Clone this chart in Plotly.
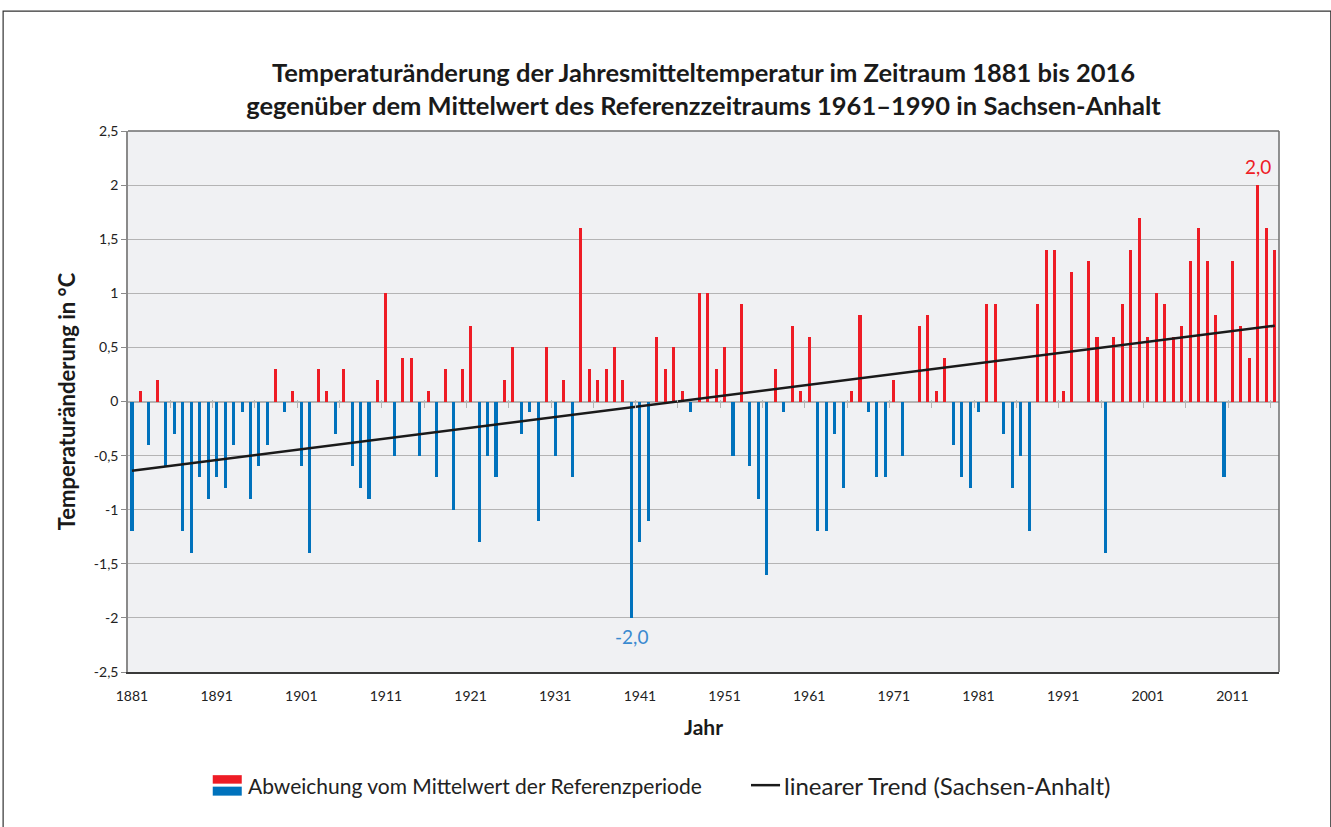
import plotly.graph_objects as go

years = list(range(1881, 2017))
anomaly = [
    # 1881-1890
    -1.2, 0.1, -0.4, 0.2, -0.6, -0.3, -1.2, -1.4, -0.7, -0.9,
    # 1891-1900
    -0.7, -0.8, -0.4, -0.1, -0.9, -0.6, -0.4, 0.3, -0.1, 0.1,
    # 1901-1910
    -0.6, -1.4, 0.3, 0.1, -0.3, 0.3, -0.6, -0.8, -0.9, 0.2,
    # 1911-1920
    1.0, -0.5, 0.4, 0.4, -0.5, 0.1, -0.7, 0.3, -1.0, 0.3,
    # 1921-1930
    0.7, -1.3, -0.5, -0.7, 0.2, 0.5, -0.3, -0.1, -1.1, 0.5,
    # 1931-1940
    -0.5, 0.2, -0.7, 1.6, 0.3, 0.2, 0.3, 0.5, 0.2, -2.0,
    # 1941-1950
    -1.3, -1.1, 0.6, 0.3, 0.5, 0.1, -0.1, 1.0, 1.0, 0.3,
    # 1951-1960
    0.5, -0.5, 0.9, -0.6, -0.9, -1.6, 0.3, -0.1, 0.7, 0.1,
    # 1961-1970
    0.6, -1.2, -1.2, -0.3, -0.8, 0.1, 0.8, -0.1, -0.7, -0.7,
    # 1971-1980
    0.2, -0.5, 0.0, 0.7, 0.8, 0.1, 0.4, -0.4, -0.7, -0.8,
    # 1981-1990
    -0.1, 0.9, 0.9, -0.3, -0.8, -0.5, -1.2, 0.9, 1.4, 1.4,
    # 1991-2000
    0.1, 1.2, 0.0, 1.3, 0.6, -1.4, 0.6, 0.9, 1.4, 1.7,
    # 2001-2010
    0.6, 1.0, 0.9, 0.6, 0.7, 1.3, 1.6, 1.3, 0.8, -0.7,
    # 2011-2016
    1.3, 0.7, 0.4, 2.0, 1.6, 1.4,
]
trend_years = [1881, 2016]
trend_values = [-0.64, 0.70]
y_ticks = [2.5, 2, 1.5, 1, 0.5, 0, -0.5, -1, -1.5, -2, -2.5]
y_tick_labels = ["2,5", "2", "1,5", "1", "0,5", "0", "-0,5", "-1", "-1,5", "-2", "-2,5"]
x_tick_years = list(range(1881, 2017, 10))
zero_tick_years = [y + 0.5 for y in range(1885, 2016, 5)]

RED = "#ee1c25"
BLUE = "#0072bc"
FONT = "Lato"

colors = [RED if v >= 0 else BLUE for v in anomaly]

fig = go.Figure()
fig.add_trace(go.Bar(
    x=years, y=anomaly, marker=dict(color=colors, line=dict(width=0)),
    width=0.36, showlegend=False, hoverinfo="x+y",
))
fig.add_trace(go.Scatter(
    x=trend_years, y=trend_values, mode="lines",
    line=dict(color="#1a1a1a", width=2.5), showlegend=False,
))
# invisible helpers for the zero-line tick axes
for xa in ("x2", "x3"):
    fig.add_trace(go.Scatter(x=[years[0]], y=[0], xaxis=xa, mode="markers",
                             marker=dict(opacity=0), showlegend=False, hoverinfo="skip"))

xr = [1880.53, 2016.5]
fig.update_layout(
    width=1331, height=827,
    margin=dict(l=128, r=52, t=131, b=155),
    paper_bgcolor="white", plot_bgcolor="#f0f1f3",
    separators=",.",
    font=dict(family=FONT, color="#222222"),
    title=dict(
        text="Temperaturänderung der Jahresmitteltemperatur im Zeitraum 1881 bis 2016<br>"
             "gegenüber dem Mittelwert des Referenzzeitraums 1961–1990 in Sachsen-Anhalt",
        x=0.5, xanchor="center", xref="paper", yref="container", y=1 - 82 / 827, yanchor="middle",
        font=dict(family=FONT, size=25.5, color="#1a1a1a", weight="bold"),
    ),
    xaxis=dict(
        range=xr, tickvals=x_tick_years, ticktext=[str(y) for y in x_tick_years],
        showgrid=False, zeroline=False, showline=True, linecolor="#3a3a3a", linewidth=1.5,
        mirror=False, ticks="", tickfont=dict(size=14, color="#222"), ticklabelstandoff=10,
        title=dict(text="Jahr", font=dict(size=21, weight="bold", color="#1a1a1a"), standoff=18),
    ),
    xaxis2=dict(range=xr, overlaying="x", anchor="free", position=0.5, side="bottom",
                tickvals=zero_tick_years, showticklabels=False, ticks="outside", ticklen=5,
                tickcolor="#b4b4b4", tickwidth=1, showgrid=False, showline=False, zeroline=False),
    xaxis3=dict(range=xr, overlaying="x", anchor="free", position=0.5, side="top",
                tickvals=zero_tick_years, showticklabels=False, ticks="outside", ticklen=2,
                tickcolor="#b4b4b4", tickwidth=1, showgrid=False, showline=False, zeroline=False),
    yaxis=dict(
        range=[-2.5, 2.5], tickvals=y_ticks, ticktext=y_tick_labels,
        showgrid=True, gridcolor="#b4b4b4", gridwidth=1,
        zeroline=True, zerolinecolor="#b4b4b4", zerolinewidth=1.5,
        showline=True, linecolor="#8a8a8a", linewidth=1.5, ticks="outside", ticklen=5,
        tickcolor="#8a8a8a", tickfont=dict(size=14, color="#222"),
        title=dict(text="Temperaturänderung in °C", font=dict(size=22, weight="bold", color="#1a1a1a"),
                   standoff=12),
    ),
    bargap=0,
)

# plot-area border (top and right)
fig.add_shape(type="line", xref="paper", yref="paper", x0=0, x1=1, y0=1, y1=1,
              line=dict(color="#6e6e6e", width=1.5))
fig.add_shape(type="line", xref="paper", yref="paper", x0=1, x1=1, y0=0, y1=1,
              line=dict(color="#6e6e6e", width=1.5))
# outer frame
fig.add_shape(type="rect", xref="paper", yref="paper", x0=-0.1085, x1=1.045, y0=-0.4, y1=1.2214,
              line=dict(color="#333333", width=1.2), layer="below")

# value labels for extremes
i_max = anomaly.index(max(anomaly))
i_min = anomaly.index(min(anomaly))
fig.add_annotation(x=years[i_max], y=anomaly[i_max], text="2,0", showarrow=False,
                   yanchor="bottom", yshift=5, font=dict(size=19, color=RED, family=FONT))
fig.add_annotation(x=years[i_min], y=anomaly[i_min], text="-2,0", showarrow=False,
                   yanchor="top", yshift=-5, font=dict(size=19, color="#3a8ad0", family=FONT))

# manual legend (paper coords from plot area pixels)
def px(x):
    return (x - 128.3) / 1150.4

def py(y):
    return (672.7 - y) / 541.7

fig.add_shape(type="rect", xref="paper", yref="paper", x0=px(213), x1=px(242), y0=py(776), y1=py(784.5),
              fillcolor=RED, line=dict(width=0))
fig.add_shape(type="rect", xref="paper", yref="paper", x0=px(213), x1=px(242), y0=py(787.5), y1=py(796.5),
              fillcolor=BLUE, line=dict(width=0))
fig.add_annotation(xref="paper", yref="paper", x=px(246), y=py(786), text="Abweichung vom Mittelwert der Referenzperiode",
                   showarrow=False, xanchor="left", yanchor="middle", font=dict(size=21, color="#222", family=FONT))
fig.add_shape(type="line", xref="paper", yref="paper", x0=px(751), x1=px(780), y0=py(786), y1=py(786),
              line=dict(color="#1a1a1a", width=2.5))
fig.add_annotation(xref="paper", yref="paper", x=px(782), y=py(786), text="linearer Trend (Sachsen-Anhalt)",
                   showarrow=False, xanchor="left", yanchor="middle", font=dict(size=24, color="#222", family=FONT))

fig.write_html("out.html", config={"displayModeBar": False},
               post_script="document.body.style.margin='0';document.body.style.overflow='hidden';")
